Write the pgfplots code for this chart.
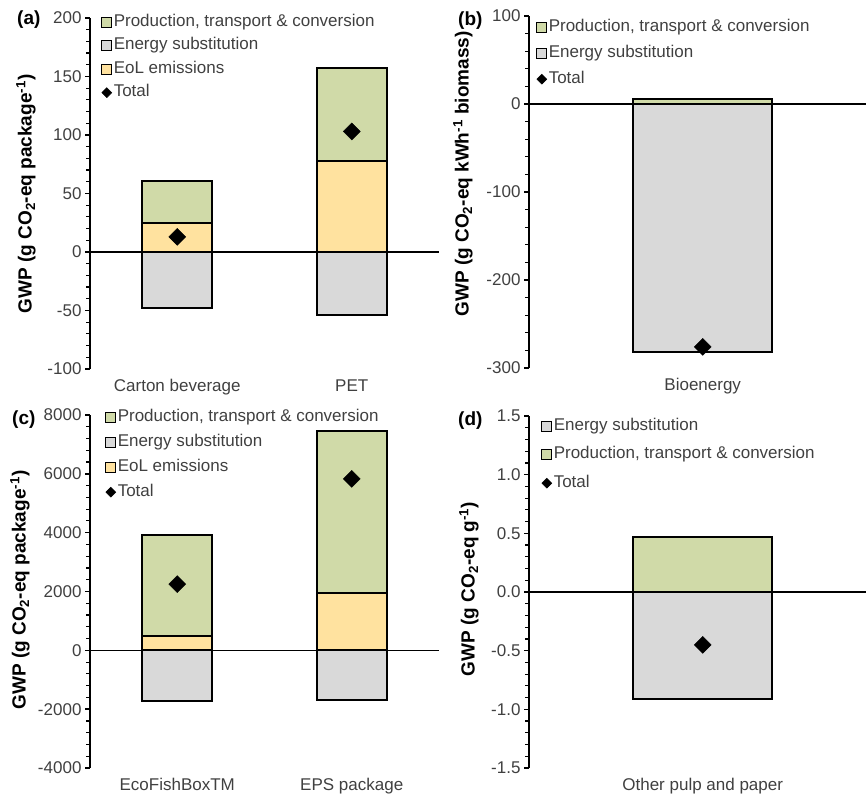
\documentclass[border=0pt]{standalone}
\usepackage{pgfplots}
\pgfplotsset{compat=1.18}
\usepackage{fontspec}
\setmainfont{Liberation Sans}

\definecolor{prodgreen}{HTML}{D0DAA8}
\definecolor{eolyellow}{HTML}{FFE29F}
\definecolor{subgrey}{HTML}{D9D9D9}
\definecolor{txtgrey}{HTML}{404040}

\newcommand{\fs}{\fontsize{17}{20}\selectfont}
\newcommand{\lbl}{\fontsize{19}{22}\selectfont\bfseries}

\pgfplotsset{
  gwp/.style={
    scale only axis, anchor=south west, clip=false,
    axis y line*=left, axis x line*=bottom,
    x axis line style={draw=none},
    xtick style={draw=none},
    y axis line style={line width=1.6pt},
    ytick style={line width=1.4pt, black},
    minor y tick style={line width=1.2pt, black},
    tick align=outside, major tick length=5pt, minor tick length=4pt,
    minor y tick num=4,
    scaled y ticks=false,
    /pgf/number format/assume math mode=true,
    /pgf/number format/1000 sep={},
    yticklabel style={font=\fs, text=txtgrey},
    xticklabel style={font=\fs, text=txtgrey, yshift=-2pt},
    legend cell align=left,
    legend style={draw=none, fill=none, inner sep=0pt, font=\fs, text=txtgrey,
      at={(0,1)}, anchor=north west,
      nodes={inner sep=0pt, text height=12pt, text depth=4pt}},
  },
  seg/.style={ybar, bar width=0.4, bar shift=0pt, fill=#1, draw=black, line width=1.9pt,
    legend image code/.code={\draw[fill=#1, draw=black, line width=1.2pt] (0pt,-5pt) rectangle (10pt,5pt);
      \path (11pt,0pt);}},
  zeroline/.style={black, line width=1.5pt, forget plot},
  total/.style={only marks, mark=square*, mark size=6pt,
    mark options={rotate=45, fill=black, draw=black},
    legend image code/.code={\fill[black] (5pt,5pt) -- (10pt,0pt) -- (5pt,-5pt) -- (0pt,0pt) -- cycle;
      \path (11pt,0pt);}},
}

\begin{document}
\begin{tikzpicture}
\path[use as bounding box] (0,0) rectangle (866pt,793pt);

% (a) beverage packaging
\begin{axis}[gwp, at={(90pt,424pt)}, width=349pt, height=351pt,
  xmin=-0.5, xmax=1.5, ymin=-100, ymax=200, ytick={-100,-50,...,200},
  xtick={0,1}, xticklabels={Carton beverage, PET},
  legend style={xshift=11pt, yshift=4pt, row sep=7.5pt}]
\addplot[seg=prodgreen] coordinates {(0,61) (1,157)};
\addlegendentry{Production, transport \& conversion}
\addplot[seg=subgrey] coordinates {(0,-48) (1,-54)};
\addlegendentry{Energy substitution}
\addplot[seg=eolyellow] coordinates {(0,25) (1,78)};
\addlegendentry{EoL emissions}
\addplot[zeroline] coordinates {(-0.5,0) (1.5,0)};
\addplot[total] coordinates {(0,13) (1,103)};
\addlegendentry{Total}
\end{axis}

% (b) bioenergy
\begin{axis}[gwp, at={(529pt,425pt)}, width=337pt, height=352pt,
  xmin=-0.5, xmax=0.47, ymin=-300, ymax=100, ytick={-300,-200,...,100},
  xtick={0}, xticklabels={Bioenergy},
  legend style={xshift=7pt, yshift=-3pt, row sep=10pt}]
\addplot[seg=prodgreen] coordinates {(0,6)};
\addlegendentry{Production, transport \& conversion}
\addplot[seg=subgrey] coordinates {(0,-282)};
\addlegendentry{Energy substitution}
\addplot[zeroline] coordinates {(-0.5,0) (0.47,0)};
\addplot[total] coordinates {(0,-276)};
\addlegendentry{Total}
\end{axis}

% (c) fish boxes
\begin{axis}[gwp, at={(90pt,25pt)}, width=349pt, height=353pt,
  xmin=-0.5, xmax=1.5, ymin=-4000, ymax=8000, ytick={-4000,-2000,...,8000},
  xtick={0,1}, xticklabels={EcoFishBoxTM, EPS package},
  legend style={xshift=15pt, yshift=6pt, row sep=9pt}]
\addplot[seg=prodgreen] coordinates {(0,3930) (1,7470)};
\addlegendentry{Production, transport \& conversion}
\addplot[seg=subgrey] coordinates {(0,-1720) (1,-1700)};
\addlegendentry{Energy substitution}
\addplot[seg=eolyellow] coordinates {(0,480) (1,1950)};
\addlegendentry{EoL emissions}
\addplot[zeroline] coordinates {(-0.5,0) (1.5,0)};
\addplot[total] coordinates {(0,2250) (1,5830)};
\addlegendentry{Total}
\end{axis}

% (d) other pulp and paper
\begin{axis}[gwp, at={(529pt,25pt)}, width=337pt, height=352pt,
  xmin=-0.5, xmax=0.47, ymin=-1.5, ymax=1.5, ytick={-1.5,-1,-0.5,0,0.5,1,1.5},
  yticklabel style={/pgf/number format/.cd, fixed, fixed zerofill, precision=1},
  xtick={0}, xticklabels={Other pulp and paper},
  legend style={xshift=12pt, yshift=-2pt, row sep=12.5pt}]
\addplot[seg=subgrey] coordinates {(0,-0.91)};
\addlegendentry{Energy substitution}
\addplot[seg=prodgreen] coordinates {(0,0.47)};
\addlegendentry{Production, transport \& conversion}
\addplot[zeroline] coordinates {(-0.5,0) (0.47,0)};
\addplot[total] coordinates {(0,-0.45)};
\addlegendentry{Total}
\end{axis}

% panel letters
\node[font=\lbl, anchor=west, inner sep=0pt] at (17pt,773pt) {(a)};
\node[font=\lbl, anchor=west, inner sep=0pt] at (458pt,772pt) {(b)};
\node[font=\lbl, anchor=west, inner sep=0pt] at (12pt,373pt) {(c)};
\node[font=\lbl, anchor=west, inner sep=0pt] at (458pt,372pt) {(d)};

% y-axis titles
\node[font=\lbl, rotate=90] at (26pt,599pt) {GWP (g CO\textsubscript{2}-eq package\textsuperscript{-1})};
\node[font=\lbl, rotate=90] at (463pt,619pt) {GWP (g CO\textsubscript{2}-eq kWh\textsuperscript{-1} biomass)};
\node[font=\lbl, rotate=90] at (20pt,203pt) {GWP (g CO\textsubscript{2}-eq package\textsuperscript{-1})};
\node[font=\lbl, rotate=90] at (469pt,204pt) {GWP (g CO\textsubscript{2}-eq g\textsuperscript{-1})};
\end{tikzpicture}
\end{document}
